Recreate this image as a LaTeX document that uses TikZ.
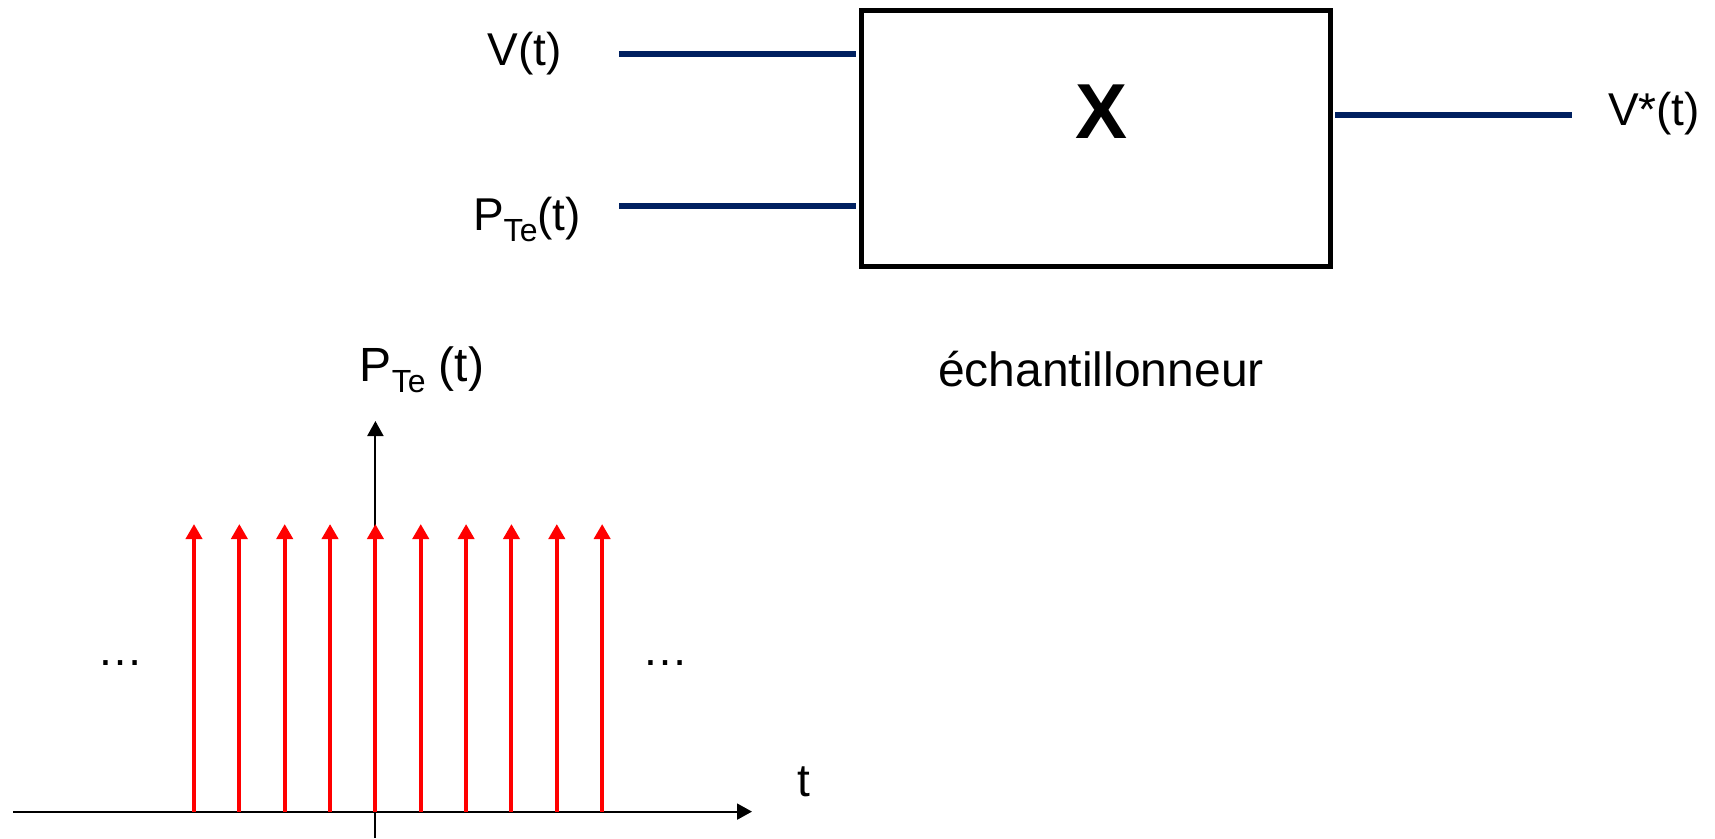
\documentclass[tikz,border=0pt]{standalone}
\usepackage{fontspec}
\setmainfont{Liberation Sans}
\usepackage{tikz}
\usetikzlibrary{arrows.meta,positioning,calc}
\definecolor{navy}{HTML}{002060}
\newcommand{\lowtxt}[1]{\raisebox{-11pt}{\fontsize{32}{34}\selectfont #1}}

\begin{document}
\begin{tikzpicture}[x=1pt,y=-1pt,
  txt/.style={inner sep=0pt,anchor=base,font=\fontsize{46}{50}\selectfont},
  sig/.style={draw=navy,line width=6pt},
  axe/.style={line width=2pt,-{Triangle[length=15pt,width=16pt]}},
  dirac/.style={red,line width=4pt,-{Triangle[length=15pt,width=16pt]}}]
\useasboundingbox (0,0) rectangle (1715,838);
% sampler block
\node[draw,line width=5pt,minimum width=469pt,minimum height=256pt,inner sep=0pt] (mult) at (1095.5,138.8) {};
\node[txt,font=\fontsize{78}{80}\selectfont\bfseries] (times) at (1101.5,138.3) {X};
\node[txt,font=\fontsize{48}{52}\selectfont] (name) at (1101,386) {échantillonneur};
\node[txt] (vlab) at (525,65) {V(t)};
\node[txt] (plab) at (527,230) {P\lowtxt{Te}(t)};
\node[txt] (vslab) at (1654,125) {V*(t)};
\coordinate (vin) at (619,54);
\coordinate (pin) at (619,206);
\coordinate (vout) at (1572,114.7);
\draw[sig,shorten >=2.5pt] (vin) -- (vin -| mult.west);
\draw[sig,shorten >=2.5pt] (pin) -- (pin -| mult.west);
\draw[sig,shorten <=2.5pt] (vout -| mult.east) -- (vout);
% comb of pulses
\coordinate (o) at (375.4,811.6);
\coordinate (xl) at (13,811.6);
\coordinate (xr) at (752,811.6);
\coordinate (yb) at (375.4,838);
\coordinate (yt) at (375.4,421);
\draw[axe] (xl) -- (xr);
\draw[axe] (yb) -- (yt);
\foreach \k in {-4,...,5}
  \draw[dirac] ($(o)+(45.35*\k,0)$) -- ++(0,-287.6);
\node[txt,font=\fontsize{48}{52}\selectfont] (ylab) at (422,381.7) {P\lowtxt{Te} (t)};
\node[txt] (tlab) at (804,796) {t};
\node[txt] (ldots) at (120,665) {…};
\node[txt] (rdots) at (665,665) {…};
\end{tikzpicture}
\end{document}
